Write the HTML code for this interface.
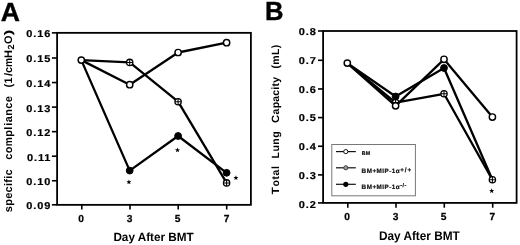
<!DOCTYPE html>
<html><head><meta charset="utf-8"><title>Figure</title>
<style>
html,body{margin:0;padding:0;background:#fff;}
body{width:520px;height:245px;overflow:hidden;}
svg{display:block;}
text{font-family:"Liberation Sans",sans-serif;font-weight:bold;fill:#000;text-rendering:geometricPrecision;}
svg{filter:grayscale(1);}
.ax{stroke:#000;stroke-width:1.8;fill:none;}
.tk{stroke:#000;stroke-width:1.6;fill:none;}
.ln{stroke:#000;stroke-width:2.3;fill:none;stroke-linejoin:round;}
.yl{font-size:10px;letter-spacing:0.8px;text-anchor:end;stroke:#000;stroke-width:0.2px;}
.xl{font-size:10.2px;text-anchor:middle;stroke:#000;stroke-width:0.25px;}
.xt{font-size:11.6px;}
.yt{font-size:11px;}
.pn{font-size:26.3px;stroke:#000;stroke-width:0.4px;}
.oc{fill:#fff;stroke:#000;stroke-width:1.45;}
.fc{fill:#000;stroke:#000;stroke-width:1;}
.pl{stroke:#000;stroke-width:1.05;fill:none;}
.st{font-size:9px;text-anchor:middle;}
.lg{font-size:6.3px;letter-spacing:0.5px;fill:#111;stroke:#111;stroke-width:0.2px;}
</style></head><body>
<svg width="520" height="245" viewBox="0 0 520 245">
<rect x="0" y="0" width="520" height="245" fill="#fff"/>

<rect class="ax" x="57.1" y="32.85" width="193.8" height="172.0"/>
<path class="tk" d="M51.9 32.85H57.1"/>
<text class="yl" transform="translate(51.3 37) scale(1.1 1)">0.16</text>
<path class="tk" d="M51.9 58.00H57.1"/>
<text class="yl" transform="translate(51.3 62) scale(1.1 1)">0.15</text>
<path class="tk" d="M51.9 82.55H57.1"/>
<text class="yl" transform="translate(51.3 87) scale(1.1 1)">0.14</text>
<path class="tk" d="M51.9 107.10H57.1"/>
<text class="yl" transform="translate(51.3 112) scale(1.1 1)">0.13</text>
<path class="tk" d="M51.9 131.65H57.1"/>
<text class="yl" transform="translate(51.3 136.4) scale(1.1 1)">0.12</text>
<path class="tk" d="M51.9 156.20H57.1"/>
<text class="yl" transform="translate(51.3 160.6) scale(1.1 1)">0.11</text>
<path class="tk" d="M51.9 180.75H57.1"/>
<text class="yl" transform="translate(51.3 185) scale(1.1 1)">0.10</text>
<path class="tk" d="M51.9 204.80H57.1"/>
<text class="yl" transform="translate(51.3 209.4) scale(1.1 1)">0.09</text>
<path class="tk" d="M81.8 204.8V209.5"/>
<text class="xl" x="81.2" y="222.2">0</text>
<path class="tk" d="M130.0 204.8V209.5"/>
<text class="xl" x="129.5" y="222.2">3</text>
<path class="tk" d="M178.2 204.8V209.5"/>
<text class="xl" x="177.6" y="222.2">5</text>
<path class="tk" d="M226.7 204.8V209.5"/>
<text class="xl" x="226.5" y="222.2">7</text>
<text class="xt" x="113.4" y="240.8" style="font-size:11.9px" textLength="80.4" lengthAdjust="spacingAndGlyphs">Day After BMT</text>
<text transform="translate(12.3 212.2) rotate(-90)" style="font-size:11px" textLength="42.9" lengthAdjust="spacing" >specific</text>
<text transform="translate(12.3 159.8) rotate(-90)" style="font-size:11px"  letter-spacing="0.35">co</text>
<text transform="translate(12.3 146.3) rotate(-90)" style="font-size:11px" textLength="9.1" lengthAdjust="spacingAndGlyphs" >m</text>
<text transform="translate(12.3 136.8) rotate(-90)" style="font-size:11px"  >p</text>
<text transform="translate(12.3 129.7) rotate(-90)" style="font-size:11px"  >l</text>
<text transform="translate(12.3 125.7) rotate(-90)" style="font-size:11px"  letter-spacing="0.35">iance</text>
<text transform="translate(12.3 87.6) rotate(-90)" style="font-size:11px"  >(</text>
<text transform="translate(12.3 83.5) rotate(-90)" style="font-size:11px"  >1</text>
<text transform="translate(12.3 76.1) rotate(-90)" style="font-size:11px"  >/</text>
<text transform="translate(12.3 73.0) rotate(-90)" style="font-size:11px"  >c</text>
<text transform="translate(12.3 67.0) rotate(-90)" style="font-size:11px" textLength="9.1" lengthAdjust="spacingAndGlyphs" >m</text>
<text transform="translate(12.3 58.1) rotate(-90)" style="font-size:11px" textLength="22.6" lengthAdjust="spacing" >H<tspan dy="1.8" font-size="9">2</tspan><tspan dy="-1.8">O</tspan></text>
<text transform="translate(12.3 35.4) rotate(-90)" style="font-size:11px" textLength="6.0" lengthAdjust="spacingAndGlyphs" >)</text>
<text class="pn" x="0.8" y="20.8" textLength="19.2" lengthAdjust="spacingAndGlyphs">A</text>
<polyline class="ln" points="81.3,60.1 129.7,84.7 178.1,52.5 226.6,42.7"/>
<polyline class="ln" points="81.3,60.1 129.7,62.4 178.1,101.7 226.6,182.9"/>
<polyline class="ln" points="81.3,60.1 129.7,170.6 178.1,136.0 226.6,172.8"/>
<circle class="fc" cx="129.7" cy="170.6" r="3.4"/>
<circle class="fc" cx="178.1" cy="136.0" r="3.4"/>
<circle class="fc" cx="226.6" cy="172.8" r="3.4"/>
<circle class="oc" style="stroke-width:1.3" cx="129.7" cy="62.4" r="3.15"/>
<path class="pl" d="M126.5 62.4H132.8M129.7 59.2V65.5"/>
<circle class="oc" style="stroke-width:1.3" cx="178.1" cy="101.7" r="3.15"/>
<path class="pl" d="M174.9 101.7H181.2M178.1 98.5V104.9"/>
<circle class="oc" style="stroke-width:1.3" cx="226.6" cy="182.9" r="3.15"/>
<path class="pl" d="M223.4 182.9H229.8M226.6 179.8V186.1"/>
<circle class="oc" cx="81.3" cy="60.1" r="3.15"/>
<circle class="oc" cx="129.7" cy="84.7" r="3.15"/>
<circle class="oc" cx="178.1" cy="52.5" r="3.15"/>
<circle class="oc" cx="226.6" cy="42.7" r="3.15"/>
<polygon fill="#000" points="128.90,179.45 129.55,181.21 131.42,181.28 129.95,182.44 130.46,184.24 128.90,183.20 127.34,184.24 127.85,182.44 126.38,181.28 128.25,181.21"/>
<polygon fill="#000" points="177.50,147.55 178.15,149.31 180.02,149.38 178.55,150.54 179.06,152.34 177.50,151.30 175.94,152.34 176.45,150.54 174.98,149.38 176.85,149.31"/>
<polygon fill="#000" points="235.90,175.15 236.55,176.91 238.42,176.98 236.95,178.14 237.46,179.94 235.90,178.90 234.34,179.94 234.85,178.14 233.38,176.98 235.25,176.91"/>
<rect class="ax" x="323.1" y="31.0" width="193.5" height="171.9"/>
<path class="tk" d="M318 31.00H323.1"/>
<text class="yl" transform="translate(316.8 35.10) scale(1.1 1)">0.8</text>
<path class="tk" d="M318 60.30H323.1"/>
<text class="yl" transform="translate(316.8 63.85) scale(1.1 1)">0.7</text>
<path class="tk" d="M318 88.95H323.1"/>
<text class="yl" transform="translate(316.8 92.60) scale(1.1 1)">0.6</text>
<path class="tk" d="M318 117.60H323.1"/>
<text class="yl" transform="translate(316.8 121.35) scale(1.1 1)">0.5</text>
<path class="tk" d="M318 146.25H323.1"/>
<text class="yl" transform="translate(316.8 150.10) scale(1.1 1)">0.4</text>
<path class="tk" d="M318 174.90H323.1"/>
<text class="yl" transform="translate(316.8 178.85) scale(1.1 1)">0.3</text>
<path class="tk" d="M318 202.90H323.1"/>
<text class="yl" transform="translate(316.8 207.60) scale(1.1 1)">0.2</text>
<path class="tk" d="M347.8 202.9V207.7"/>
<text class="xl" x="347.2" y="219.9">0</text>
<path class="tk" d="M396.0 202.9V207.7"/>
<text class="xl" x="395.5" y="219.9">3</text>
<path class="tk" d="M444.3 202.9V207.7"/>
<text class="xl" x="443.7" y="219.9">5</text>
<path class="tk" d="M492.7 202.9V207.7"/>
<text class="xl" x="492.3" y="219.9">7</text>
<text class="xt" x="378.9" y="240.4" style="font-size:12.5px" textLength="80.9" lengthAdjust="spacingAndGlyphs">Day After BMT</text>
<text transform="translate(279.0 194.4) rotate(-90)" style="font-size:10.5px" textLength="7.3" lengthAdjust="spacingAndGlyphs" >T</text>
<text transform="translate(279.0 186.6) rotate(-90)" style="font-size:10.5px"  letter-spacing="0.6">otal</text>
<text transform="translate(279.0 158.4) rotate(-90)" style="font-size:10.5px" textLength="27.0" lengthAdjust="spacing" >Lung</text>
<text transform="translate(279.0 123.0) rotate(-90)" style="font-size:10.5px" textLength="8.1" lengthAdjust="spacingAndGlyphs" >C</text>
<text transform="translate(279.0 114.4) rotate(-90)" style="font-size:10.5px"  letter-spacing="0.2">apacity</text>
<text transform="translate(279.0 68.4) rotate(-90)" style="font-size:10.5px" textLength="23.6" lengthAdjust="spacing" >(mL)</text>
<text class="pn" x="265" y="20.3" textLength="18.5" lengthAdjust="spacingAndGlyphs">B</text>
<polyline class="ln" points="347.3,63.1 395.6,105.8 444.0,59.3 492.4,117.0"/>
<polyline class="ln" points="347.3,63.1 395.6,102.6 444.0,93.8 492.4,179.8"/>
<polyline class="ln" points="347.3,63.1 395.6,96.5 444.0,68.0 492.4,179.8"/>
<circle class="oc" style="stroke-width:1.3" cx="395.6" cy="102.6" r="3.15"/>
<path class="pl" d="M392.5 102.6H398.8M395.6 99.4V105.8"/>
<circle class="oc" style="stroke-width:1.3" cx="444.0" cy="93.8" r="3.15"/>
<path class="pl" d="M440.9 93.8H447.1M444.0 90.6V97.0"/>
<circle class="fc" cx="395.6" cy="96.5" r="3.4"/>
<circle class="fc" cx="444.0" cy="68.0" r="3.4"/>
<circle class="oc" style="stroke-width:1.3" cx="492.4" cy="179.8" r="3.15"/>
<path class="pl" d="M489.2 179.8H495.5M492.4 176.7V183.0"/>
<circle class="oc" cx="347.3" cy="63.1" r="3.15"/>
<circle class="oc" cx="395.6" cy="105.8" r="3.15"/>
<circle class="oc" cx="444.0" cy="59.3" r="3.15"/>
<circle class="oc" cx="492.4" cy="117.0" r="3.15"/>
<polygon fill="#000" points="491.70,188.35 492.35,190.11 494.22,190.18 492.75,191.34 493.26,193.14 491.70,192.10 490.14,193.14 490.65,191.34 489.18,190.18 491.05,190.11"/>
<rect x="331.8" y="144.5" width="83.6" height="51.3" fill="#fff" stroke="#777" stroke-width="1"/>
<path d="M336 151.6H355.8" stroke="#111" stroke-width="1.2" fill="none"/>
<path d="M336 167.8H355.8" stroke="#111" stroke-width="1.2" fill="none"/>
<path d="M336 184.3H355.8" stroke="#111" stroke-width="1.2" fill="none"/>
<circle cx="345.8" cy="151.6" r="2.1" fill="#fff" stroke="#111" stroke-width="1"/>
<circle cx="345.8" cy="167.8" r="2.1" fill="#999" stroke="#444" stroke-width="1"/>
<circle cx="345.8" cy="184.3" r="2.6" fill="#000"/>
<text class="lg" x="361.8" y="155" style="font-size:5.3px;letter-spacing:0.2px">BM</text>
<text class="lg" x="361.6" y="173.3">BM+MIP-1α<tspan dy="-1.6" letter-spacing="0.9">+/+</tspan></text>
<text class="lg" x="361.6" y="189.4">BM+MIP-1α<tspan dy="-2" font-size="5.4" letter-spacing="0.5">-/-</tspan></text>
</svg></body></html>
